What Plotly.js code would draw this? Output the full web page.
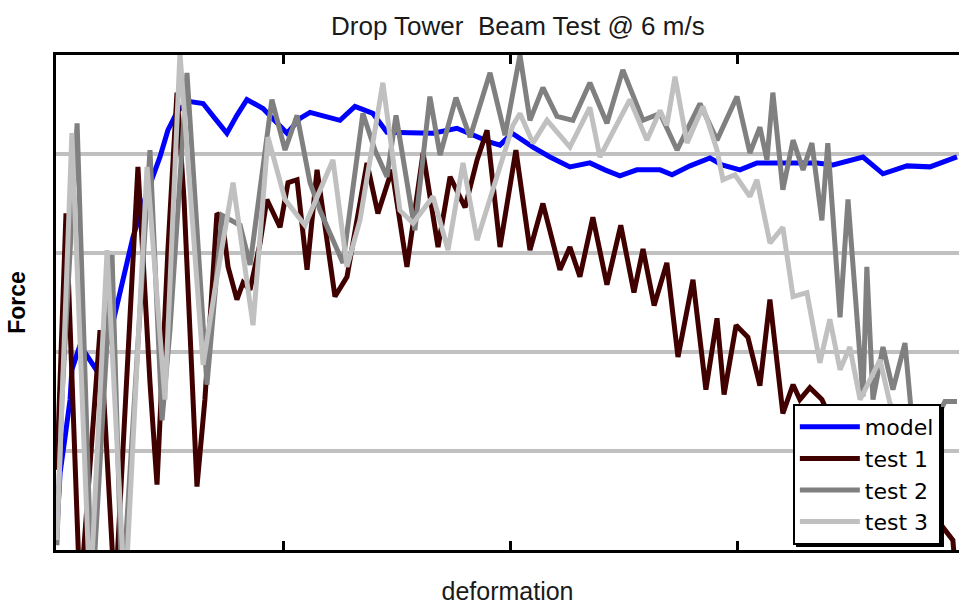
<!DOCTYPE html>
<html>
<head>
<meta charset="utf-8">
<script src="https://cdn.plot.ly/plotly-3.0.1.min.js"></script>
<style>html,body{margin:0;padding:0;background:#fff;}#chart{width:959px;height:605px;}</style>
</head>
<body>
<div id="chart"></div>
<script>
// deformation (arbitrary units, ticks at 100/200/300) and force (gridlines every 100)
const modelX = [0,0.4,1.8,4.0,6.2,7.0,10.6,17.2,21.6,23.8,28.2,33.9,40.1,45.8,49.3,53.7,59.0,64.8,70.0,75.3,79.7,84.1,91.2,96.5,101.8,107.5,111.9,118.5,125.1,131.7,139.6,145.8,154.6,166.1,176.6,185.5,191.2,195.6,200.9,210.1,217.6,226.4,235.2,241.8,248.4,255.9,266.1,271.4,279.3,288.1,293.4,301.3,308.8,318.9,327.7,335.2,342.3,349.7,355.5,364.3,374.9,385.0,396.9];
const modelY = [5,20,78,114,152,182,207,184,202,217,260,316,361,397,424,444,453,451,436,421,439,455,446,434,421,436,442,438,434,448,441,422,422,421,426,417,412,409,421,407,397,387,391,384,378,384,384,379,388,396,389,384,391,391,391,391,389,394,397,380,388,387,397];

const test1X = [0.4,4.4,10.6,19.4,26.0,36.1,41.4,44.5,49.3,53.3,56.4,62.1,65.6,70.9,73.1,75.8,79.7,82.4,85.5,89.9,92.9,98.7,102.2,106.2,110.6,115.0,122.9,128.2,137.0,141.8,148.0,154.6,161.7,168.3,173.6,180.2,185.5,189.9,195.6,202.6,208.8,214.5,222.0,226.4,230.8,236.5,242.7,248.8,254.6,258.6,263.5,269.1,274.0,280.6,286.3,291.2,294.3,299.6,304.8,310.1,314.5,320.2,324.7,327.7,332.1,337.4,345.4,358.6,371.8,385.0,395.1,397.3];
const test1Y = [81,340,-50,222,-50,387,169,66,303,462,354,64,152,340,336,286,253,270,263,310,354,326,371,374,283,384,256,276,391,340,384,286,401,306,377,346,394,424,306,404,303,350,283,306,276,336,268,328,260,304,247,290,195,273,162,234,157,227,215,166,253,138,167,152,164,152,111,81,61,40,10,-50];

const test2X = [0.4,2.6,9.3,15.9,24.7,29.1,41.4,46.7,50.2,57.7,66.5,73.1,81.1,85.5,95.1,100.9,106.2,111.9,116.3,126.4,135.2,140.5,145.8,149.8,158.1,164.7,169.2,176.2,182.4,191.2,197.8,204.4,208.8,214.5,220.7,227.7,235.2,242.7,249.7,258.6,266.1,273.6,283.7,291.2,300.0,305.7,310.1,313.2,315.8,320.2,324.7,329.1,333.0,337.4,340.0,345.4,348.9,355.5,357.2,359.9,364.3,368.7,374.0,377.1,385.0,391.6,396.9];
const test2Y = [5,152,431,-50,298,-50,404,131,222,482,167,338,328,288,455,404,439,371,343,290,441,404,377,439,323,458,399,457,417,482,419,500,434,467,438,434,472,431,485,434,441,404,451,414,458,401,427,394,462,364,414,384,411,333,411,235,354,155,286,152,205,162,209,131,120,150,150];

const test3X = [0.4,7.0,15.0,22.5,30.4,40.1,48.0,54.6,64.8,70.0,78.0,86.8,93.4,98.7,100.9,109.7,122.0,128.2,133.9,144.0,151.5,157.3,166.1,172.7,179.3,185.5,193.4,201.3,204.4,210.1,216.3,226.4,235.2,239.6,252.8,260.3,266.1,269.1,272.7,278.0,285.0,291.2,293.8,299.1,305.7,308.8,314.5,320.2,324.7,330.8,336.5,340.9,345.4,349.7,354.2,363.0,367.4,376.2,385.0];
const test3Y = [10,421,-50,303,-50,387,152,502,187,263,371,227,417,369,354,328,394,286,333,472,343,330,357,303,391,313,369,429,441,411,434,407,447,397,455,414,444,429,478,411,448,404,374,379,357,374,310,326,256,260,189,233,182,205,152,192,148,121,100];

const names = ['model','test 1','test 2','test 3'];
const colors = ['#0000ff','#400000','#808080','#c0c0c0'];
const xs = [modelX,test1X,test2X,test3X];
const ys = [modelY,test1Y,test2Y,test3Y];

const traces = names.map((n,i)=>({
  type:'scatter', mode:'lines', name:n, x:xs[i], y:ys[i],
  legendgroup:'g'+i,
  line:{color:colors[i], width:5}
}));

const layout = {
  width:959, height:605,
  margin:{l:56, r:0, t:55, b:55},
  paper_bgcolor:'#ffffff', plot_bgcolor:'#ffffff',
  font:{family:'Arial, "Liberation Sans", sans-serif', color:'#000'},
  title:{text:'Drop Tower\u00a0 Beam Test @ 6 m/s', font:{size:26, color:'#1a1a1a'}, x:0.54, xanchor:'center', y:0.958, yanchor:'middle', yref:'container'},
  xaxis:{range:[0,397.8], showgrid:false, zeroline:false, showline:true, linecolor:'#000', linewidth:3, mirror:'ticks',
         ticks:'inside', ticklen:9, tickwidth:3, tickcolor:'#000', tickvals:[100,200,300], showticklabels:false,
         title:{text:'deformation', font:{size:25, color:'#1a1a1a'}, standoff:32}},
  yaxis:{range:[0,500], showgrid:true, gridcolor:'#c0c0c0', gridwidth:3.5, dtick:100, zeroline:false, showline:true,
         linecolor:'#000', linewidth:3, ticks:'', showticklabels:false,
         title:{text:'<b>Force</b>', font:{size:23, color:'#000'}, standoff:21}},
  showlegend:true,
  legend:{x:0.816, xanchor:'left', y:0.295, yanchor:'top', bgcolor:'#ffffff', bordercolor:'#000', borderwidth:2,
          font:{size:22, family:'"DejaVu Sans", Verdana, sans-serif', color:'#000'}, tracegroupgap:0, itemwidth:60, traceorder:'normal'},
  shapes:[{type:'rect', xref:'paper', yref:'paper', x0:0.8195, x1:0.9834, y0:0.006, y1:0.2889,
           fillcolor:'#000', line:{width:0}, layer:'above'}]
};

Plotly.newPlot('chart', traces, layout, {staticPlot:true, displayModeBar:false});
</script>
</body>
</html>
